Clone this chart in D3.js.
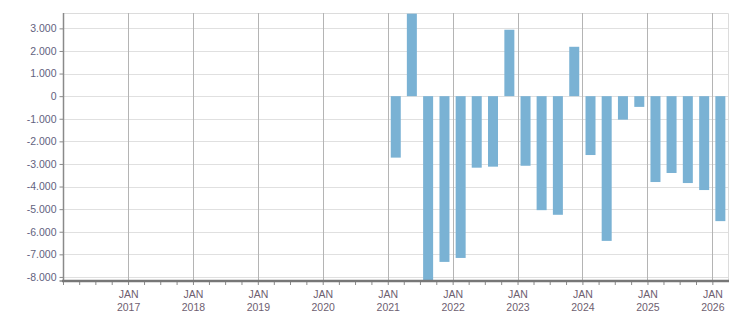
<!DOCTYPE html>
<html>
<head>
<meta charset="utf-8">
<script src="https://cdn.jsdelivr.net/npm/d3@7"></script>
<style>
  body { margin: 0; background: #fff; }
  text { font-family: "Liberation Sans", Arial, sans-serif; }
</style>
</head>
<body>
<div id="chart"></div>
<script>
// quarterly values, starting Q1 2021
const quarters = ["2021-01-01","2021-04-01","2021-07-01","2021-10-01",
                  "2022-01-01","2022-04-01","2022-07-01","2022-10-01",
                  "2023-01-01","2023-04-01","2023-07-01","2023-10-01",
                  "2024-01-01","2024-04-01","2024-07-01","2024-10-01",
                  "2025-01-01","2025-04-01","2025-07-01","2025-10-01",
                  "2026-01-01"];
const values = [-2720, 3650, -8150, -7335,
                -7160, -3165, -3120, 2940,
                -3080, -5045, -5250, 2185,
                -2605, -6405, -1040, -475,
                -3800, -3400, -3845, -4155,
                -5530];
const yTicks = [3000, 2000, 1000, 0, -1000, -2000, -3000, -4000, -5000, -6000, -7000, -8000];
const yearTicks = [2017, 2018, 2019, 2020, 2021, 2022, 2023, 2024, 2025, 2026];

const width = 751, height = 313;
const margin = {top: 13, right: 23, bottom: 32, left: 63};

const svg = d3.select("#chart").append("svg")
    .attr("width", width)
    .attr("height", height);

const parse = d3.utcParse("%Y-%m-%d");
const x = d3.scaleUtc()
    .domain([new Date(Date.UTC(2016, 0, 1)), new Date(Date.UTC(2026, 2, 30))])
    .range([margin.left, width - margin.right]);
const y = d3.scaleLinear()
    .domain([-8180, 3680])
    .range([height - margin.bottom, margin.top]);

const loc = d3.formatLocale({decimal: ",", thousands: ".", grouping: [3], currency: ["", ""], minus: "-"});
const fmt = loc.format(",d");

const x0 = margin.left, x1 = width - margin.right;
const y0 = margin.top, y1 = height - margin.bottom;

// horizontal grid
svg.append("g").selectAll("line")
    .data(yTicks)
    .join("line")
    .attr("x1", x0).attr("x2", x1)
    .attr("y1", d => Math.round(y(d)) + 0.5).attr("y2", d => Math.round(y(d)) + 0.5)
    .attr("stroke", "#e0e0e0");

// top & right border
svg.append("path")
    .attr("d", `M${x0},${y0 + 0.5}H${x1 + 0.5}V${y1}`)
    .attr("fill", "none")
    .attr("stroke", "#dcdcdc");

// vertical year grid
svg.append("g").selectAll("line")
    .data(yearTicks)
    .join("line")
    .attr("x1", d => Math.round(x(new Date(Date.UTC(d, 0, 1)))) + 0.5)
    .attr("x2", d => Math.round(x(new Date(Date.UTC(d, 0, 1)))) + 0.5)
    .attr("y1", y0).attr("y2", y1)
    .attr("stroke", "#b4b4b4")
    .attr("stroke-width", 1);

// bars
svg.append("clipPath").attr("id", "clip")
    .append("rect").attr("x", x0).attr("y", y0).attr("width", x1 - x0).attr("height", y1 - y0);

svg.append("g").attr("clip-path", "url(#clip)")
    .selectAll("rect")
    .data(quarters.map((q, i) => ({date: parse(q), value: values[i]})))
    .join("rect")
    .attr("x", d => {
        const mid = (x(d.date) + x(d3.utcMonth.offset(d.date, 3))) / 2;
        return mid - 5;
    })
    .attr("width", 10)
    .attr("y", d => y(Math.max(0, d.value)))
    .attr("height", d => Math.abs(y(d.value) - y(0)))
    .attr("fill", "#7ab2d4");

// y axis
const yAxis = svg.append("g")
    .attr("transform", `translate(${x0 + 0.5},0)`)
    .call(d3.axisLeft(y).tickValues(yTicks).tickFormat(fmt).tickSize(4).tickPadding(3));
yAxis.select(".domain").attr("stroke", "#8a8a8a").attr("d", `M-4,${y1}H0V${y0}`).attr("stroke-width", 1.5);
yAxis.selectAll(".tick line").attr("stroke", "#8a8a8a");
yAxis.selectAll(".tick text")
    .attr("fill", "#62627e")
    .style("font-size", "10.5px")
    .style("font-family", "'Liberation Sans', Arial, sans-serif");

// x axis: quarterly minor ticks
const xAxis = svg.append("g")
    .attr("transform", `translate(0,${y1})`)
    .call(d3.axisBottom(x).ticks(d3.utcMonth.every(3)).tickSize(4).tickFormat(""));
xAxis.select(".domain").remove();
xAxis.selectAll(".tick line").attr("stroke", "#8a8a8a");
svg.append("line")
    .attr("x1", x0 - 1).attr("x2", x1 + 1)
    .attr("y1", y1).attr("y2", y1)
    .attr("stroke", "#777")
    .attr("stroke-width", 2.5);

// year labels
const lab = svg.append("g").selectAll("text")
    .data(yearTicks)
    .join("text")
    .attr("x", d => x(new Date(Date.UTC(d, 0, 1))) + 0.5)
    .attr("text-anchor", "middle")
    .attr("fill", "#6e6070")
    .style("font-size", "10.5px");
lab.append("tspan").attr("x", d => x(new Date(Date.UTC(d, 0, 1))) + 0.5).attr("y", 298).text("JAN");
lab.append("tspan").attr("x", d => x(new Date(Date.UTC(d, 0, 1))) + 0.5).attr("y", 311).text(d => d);
</script>
</body>
</html>
